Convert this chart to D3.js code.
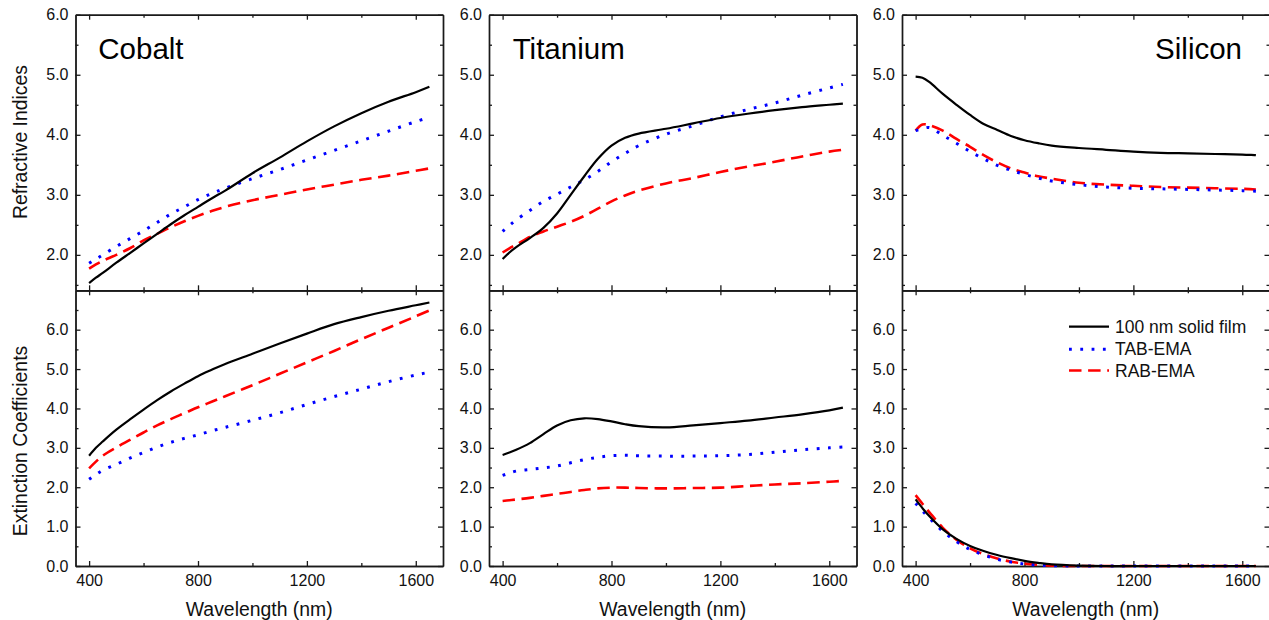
<!DOCTYPE html>
<html>
<head>
<meta charset="utf-8">
<script src="https://cdn.jsdelivr.net/npm/d3@7"></script>
<style>
  html, body { margin: 0; padding: 0; background: #fff; }
  svg { display: block; font-family: "Liberation Sans", Arial, sans-serif; }
</style>
</head>
<body>
<svg id="chart" width="1269" height="620"></svg>
<script>
// ---------------- DATA ----------------
const wavelengths = [400,425,450,500,550,600,650,700,750,800,850,900,1000,1100,1200,1300,1400,1500,1600,1650];

const materials = ["Cobalt", "Titanium", "Silicon"];
const seriesNames = ["100 nm solid film", "TAB-EMA", "RAB-EMA"];

// Refractive indices (n)
const cobaltFilmN = [1.53,1.62,1.70,1.87,2.03,2.19,2.35,2.51,2.66,2.80,2.94,3.07,3.36,3.62,3.89,4.14,4.36,4.55,4.71,4.80];
const cobaltTabN  = [1.86,1.93,2.00,2.14,2.27,2.40,2.54,2.68,2.80,2.92,3.02,3.11,3.27,3.42,3.58,3.74,3.90,4.06,4.22,4.29];
const cobaltRabN  = [1.77,1.84,1.90,2.00,2.11,2.24,2.35,2.46,2.56,2.65,2.73,2.80,2.91,3.00,3.09,3.17,3.25,3.32,3.40,3.44];

const titaniumFilmN = [1.93,2.04,2.13,2.28,2.45,2.69,3.00,3.31,3.60,3.82,3.95,4.02,4.10,4.19,4.28,4.35,4.41,4.46,4.50,4.52];
const titaniumTabN  = [2.39,2.49,2.58,2.74,2.89,3.01,3.13,3.25,3.39,3.55,3.69,3.82,4.01,4.15,4.30,4.42,4.53,4.66,4.78,4.84];
const titaniumRabN  = [2.04,2.11,2.17,2.30,2.39,2.47,2.55,2.65,2.77,2.89,2.99,3.07,3.19,3.28,3.38,3.47,3.55,3.64,3.72,3.75];

const siliconFilmN = [4.97,4.95,4.88,4.68,4.50,4.33,4.18,4.08,3.98,3.91,3.86,3.82,3.78,3.75,3.72,3.70,3.69,3.68,3.67,3.66];
const siliconTabN  = [4.07,4.10,4.12,3.99,3.86,3.72,3.60,3.49,3.41,3.34,3.28,3.23,3.17,3.13,3.11,3.10,3.09,3.08,3.07,3.06];
const siliconRabN  = [4.07,4.17,4.16,4.07,3.93,3.80,3.66,3.54,3.44,3.37,3.31,3.27,3.20,3.17,3.15,3.13,3.12,3.11,3.10,3.09];

// Extinction coefficients (k)
const cobaltFilmK = [2.80,3.00,3.16,3.46,3.72,3.97,4.21,4.43,4.63,4.82,4.98,5.13,5.39,5.65,5.90,6.14,6.32,6.48,6.62,6.69];
const cobaltTabK  = [2.20,2.32,2.43,2.58,2.74,2.88,3.02,3.14,3.24,3.33,3.43,3.52,3.70,3.89,4.10,4.30,4.49,4.68,4.85,4.92];
const cobaltRabK  = [2.48,2.65,2.80,3.01,3.20,3.39,3.57,3.73,3.88,4.03,4.17,4.31,4.59,4.88,5.17,5.46,5.76,6.05,6.34,6.49];

const titaniumFilmK = [2.82,2.88,2.95,3.12,3.35,3.57,3.70,3.75,3.73,3.67,3.60,3.55,3.52,3.57,3.63,3.69,3.77,3.85,3.95,4.02];
const titaniumTabK  = [2.30,2.36,2.41,2.45,2.49,2.54,2.62,2.70,2.76,2.80,2.81,2.80,2.79,2.79,2.80,2.83,2.89,2.95,3.00,3.02];
const titaniumRabK  = [1.65,1.67,1.69,1.73,1.78,1.83,1.88,1.93,1.97,1.99,1.99,1.98,1.97,1.98,1.99,2.03,2.07,2.10,2.14,2.16];

const siliconFilmK = [1.69,1.47,1.27,0.93,0.69,0.51,0.38,0.28,0.20,0.13,0.08,0.04,0.01,0,0,0,0,0,0,0];
const siliconTabK  = [1.59,1.40,1.22,0.88,0.62,0.42,0.28,0.17,0.10,0.05,0.02,0.01,0,0,0,0,0,0,0,0];
const siliconRabK  = [1.80,1.58,1.37,0.97,0.67,0.45,0.30,0.19,0.11,0.06,0.03,0.01,0,0,0,0,0,0,0,0];

// Axis ticks
const xTicks = [400, 800, 1200, 1600];
const xMinorTicks = [600, 1000, 1400];
const nTicks = [2, 3, 4, 5, 6];
const nMinorTicks = [1.5, 2.5, 3.5, 4.5, 5.5];
const kTicks = [0, 1, 2, 3, 4, 5, 6];
const kMinorTicks = [0.5, 1.5, 2.5, 3.5, 4.5, 5.5, 6.5];

// ---------------- LAYOUT / STYLE ----------------
const colLeft = [75.5, 489, 902];
const colWidth = 367.5;
const rowTop = 14.7, rowMid = 290.3, rowBottom = 566;

const styles = [
  { color: "#000000", width: 2.2, dash: null, cap: "butt" },
  { color: "#0000ff", width: 3, dash: "2.8,8.5", cap: "butt" },
  { color: "#ff0000", width: 2.6, dash: "12.5,6.6", cap: "butt" }
];

const dataN = [
  [cobaltFilmN, cobaltTabN, cobaltRabN],
  [titaniumFilmN, titaniumTabN, titaniumRabN],
  [siliconFilmN, siliconTabN, siliconRabN]
];
const dataK = [
  [cobaltFilmK, cobaltTabK, cobaltRabK],
  [titaniumFilmK, titaniumTabK, titaniumRabK],
  [siliconFilmK, siliconTabK, siliconRabK]
];

const svg = d3.select("#chart");
const fmt = d3.format(".1f");
const axisColor = "#1a1a1a";

function styleAxis(g) {
  g.selectAll("path").attr("stroke", axisColor).attr("stroke-width", 1.4);
  g.selectAll("line").attr("stroke", axisColor).attr("stroke-width", 1.3);
  g.selectAll("text").attr("fill", "#111").attr("font-size", 16)
    .attr("font-family", "'Liberation Sans', Arial, sans-serif");
}

function drawPanel(ci, isTop) {
  const x0 = colLeft[ci], x1 = colLeft[ci] + colWidth;
  const y0 = isTop ? rowTop : rowMid;
  const y1 = isTop ? rowMid : rowBottom;
  const x = d3.scaleLinear().domain([350, 1700]).range([x0, x1]);
  const y = isTop
    ? d3.scaleLinear().domain([1.41, 6.0]).range([y1, y0])
    : d3.scaleLinear().domain([0, 7.0]).range([y1, y0]);
  const majors = isTop ? nTicks : kTicks;
  const minors = isTop ? nMinorTicks : kMinorTicks;

  const g = svg.append("g");

  // Minor ticks
  g.append("g").attr("transform", `translate(${x0},0)`)
    .call(d3.axisLeft(y).tickValues(minors).tickSizeInner(-3).tickSizeOuter(0).tickFormat(""))
    .call(styleAxis);
  g.append("g").attr("transform", `translate(${x1},0)`)
    .call(d3.axisRight(y).tickValues(minors).tickSizeInner(-3).tickSizeOuter(0).tickFormat(""))
    .call(styleAxis);
  g.append("g").attr("transform", `translate(0,${y1})`)
    .call(d3.axisBottom(x).tickValues(xMinorTicks).tickSizeInner(-3).tickSizeOuter(0).tickFormat(""))
    .call(styleAxis);
  g.append("g").attr("transform", `translate(0,${y0})`)
    .call(d3.axisTop(x).tickValues(xMinorTicks).tickSizeInner(-3).tickSizeOuter(0).tickFormat(""))
    .call(styleAxis);

  // Major ticks
  g.append("g").attr("transform", `translate(${x0},0)`)
    .call(d3.axisLeft(y).tickValues(majors).tickSizeInner(-5).tickSizeOuter(0).tickPadding(7).tickFormat(fmt))
    .call(styleAxis);
  g.append("g").attr("transform", `translate(${x1},0)`)
    .call(d3.axisRight(y).tickValues(majors).tickSizeInner(-5).tickSizeOuter(0).tickFormat(""))
    .call(styleAxis);
  g.append("g").attr("transform", `translate(0,${y1})`)
    .call(d3.axisBottom(x).tickValues(xTicks).tickSizeInner(-5).tickSizeOuter(0).tickPadding(9)
      .tickFormat(isTop ? "" : d3.format("d")))
    .call(styleAxis);
  g.append("g").attr("transform", `translate(0,${y0})`)
    .call(d3.axisTop(x).tickValues(xTicks).tickSizeInner(-5).tickSizeOuter(0).tickFormat(""))
    .call(styleAxis);

  // Lines
  const sets = isTop ? dataN[ci] : dataK[ci];
  const line = d3.line()
    .x((d, i) => x(wavelengths[i]))
    .y(d => y(Math.max(0, d)))
    .curve(d3.curveCatmullRom.alpha(0.5));
  // draw red, blue, then black on top
  [2, 1, 0].forEach(si => {
    const st = styles[si];
    const p = g.append("path")
      .datum(sets[si])
      .attr("d", line)
      .attr("fill", "none")
      .attr("stroke", st.color)
      .attr("stroke-width", st.width)
      .attr("stroke-linecap", st.cap)
      .attr("stroke-linejoin", "round");
    if (st.dash) p.attr("stroke-dasharray", st.dash);
  });

  return { x, y };
}

for (let ci = 0; ci < 3; ci++) {
  drawPanel(ci, true);
  drawPanel(ci, false);
}

// Panel titles
svg.append("text").attr("x", 98.3).attr("y", 59).attr("font-size", 29.5).attr("fill", "#000").text(materials[0]);
svg.append("text").attr("x", 512.7).attr("y", 59).attr("font-size", 29.5).attr("fill", "#000").text(materials[1]);
svg.append("text").attr("x", 1242).attr("y", 59).attr("font-size", 29.5).attr("fill", "#000")
  .attr("text-anchor", "end").text(materials[2]);

// Axis titles
svg.append("text").attr("transform", "translate(26.5,142) rotate(-90)")
  .attr("text-anchor", "middle").attr("font-size", 19.4).attr("fill", "#111").text("Refractive Indices");
svg.append("text").attr("transform", "translate(26.5,441) rotate(-90)")
  .attr("text-anchor", "middle").attr("font-size", 19.4).attr("fill", "#111").text("Extinction Coefficients");
for (let ci = 0; ci < 3; ci++) {
  svg.append("text").attr("x", colLeft[ci] + colWidth / 2).attr("y", 616)
    .attr("text-anchor", "middle").attr("font-size", 19.4).attr("fill", "#111").text("Wavelength (nm)");
}

// Legend
const legendRows = [326.7, 349.3, 370.5];
const lg = svg.append("g");
seriesNames.forEach((name, i) => {
  const st = styles[i];
  const l = lg.append("line")
    .attr("x1", 1069).attr("x2", 1109)
    .attr("y1", legendRows[i]).attr("y2", legendRows[i])
    .attr("stroke", st.color).attr("stroke-width", st.width)
    .attr("stroke-linecap", st.cap);
  if (st.dash) l.attr("stroke-dasharray", st.dash);
  lg.append("text").attr("x", 1115).attr("y", legendRows[i]).attr("dy", "0.35em")
    .attr("font-size", 17.5).attr("fill", "#111").text(name);
});
</script>
</body>
</html>
